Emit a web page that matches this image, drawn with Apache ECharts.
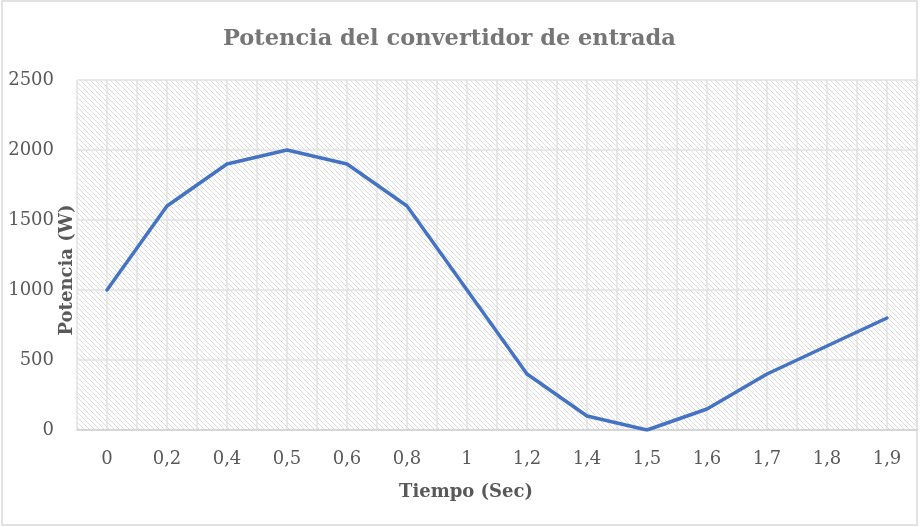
<!DOCTYPE html>
<html>
<head>
<meta charset="utf-8">
<script src="https://cdn.jsdelivr.net/npm/echarts@6/dist/echarts.min.js"></script>
<style>
  html, body { margin: 0; padding: 0; background: #fff; }
  #main { width: 920px; height: 527px; }
</style>
</head>
<body>
<div id="main"></div>
<script>
// data
var tiempo = ['0', '0,2', '0,4', '0,5', '0,6', '0,8', '1', '1,2', '1,4', '1,5', '1,6', '1,7', '1,8', '1,9'];
var potencia = [1000, 1600, 1900, 2000, 1900, 1600, 1000, 400, 100, 0, 150, 400, 600, 800];
var yTicks = { min: 0, max: 2500, interval: 500 };

// half-step slots so the vertical gridlines fall on and between categories
var halfSlots = [];
for (var i = 0; i < tiempo.length * 2; i++) halfSlots.push('');

// hatch fill like Excel's diagonal pattern
var hatch = document.createElement('canvas');
hatch.width = 5;
hatch.height = 5;
var hctx = hatch.getContext('2d');
hctx.fillStyle = '#ffffff';
hctx.fillRect(0, 0, 5, 5);
hctx.fillStyle = '#dcdcdc';
for (var k = 0; k < 5; k++) {
  hctx.fillRect(k, k, 1, 1);
}

var serif = '"DejaVu Serif", serif';
var myChart = echarts.init(document.getElementById('main'));

myChart.setOption({
  backgroundColor: '#ffffff',
  animation: false,
  title: {
    text: 'Potencia del convertidor de entrada',
    left: 218,
    top: 23,
    textStyle: { fontFamily: serif, fontSize: 22.5, fontWeight: 'bold', color: '#767676' }
  },
  grid: {
    left: 77, right: 3, top: 80, bottom: 97,
    show: true,
    borderWidth: 0,
    backgroundColor: { image: hatch, repeat: 'repeat' }
  },
  xAxis: [{
    type: 'category',
    data: tiempo,
    boundaryGap: true,
    axisLine: { lineStyle: { color: '#d0d0d0', width: 1.5 } },
    axisTick: { show: false },
    axisLabel: { fontFamily: serif, fontSize: 18, color: '#595959', margin: 20 },
    splitLine: { show: false }
  }, {
    type: 'category',
    data: halfSlots,
    position: 'bottom',
    boundaryGap: true,
    axisLine: { show: false },
    axisTick: { show: false },
    axisLabel: { show: false },
    splitLine: { show: true, interval: 0, lineStyle: { color: '#e2e2e2', width: 1.5 } }
  }],
  yAxis: {
    type: 'value',
    min: yTicks.min,
    max: yTicks.max,
    interval: yTicks.interval,
    axisLine: { show: false },
    axisTick: { show: false },
    axisLabel: {
      fontFamily: serif, fontSize: 18, color: '#595959', margin: 23,
      formatter: function (v) { return String(v); }
    },
    splitLine: { lineStyle: { color: '#e2e2e2', width: 1.5 } }
  },
  graphic: [{
    type: 'rect',
    shape: { x: 2, y: 1, width: 915, height: 524 },
    style: { fill: null, stroke: '#d9d9d9', lineWidth: 1.5 },
    silent: true
  }, {
    type: 'text',
    x: 67,
    y: 270,
    rotation: Math.PI / 2,
    style: {
      text: 'Potencia (W)',
      fontFamily: serif,
      fontSize: 18,
      fontWeight: 'bold',
      fill: '#595959',
      align: 'center',
      verticalAlign: 'middle'
    },
    z: 10
  }, {
    type: 'text',
    x: 466,
    y: 492,
    style: {
      text: 'Tiempo (Sec)',
      fontFamily: serif,
      fontSize: 18,
      fontWeight: 'bold',
      fill: '#595959',
      align: 'center',
      verticalAlign: 'middle'
    },
    z: 10
  }],
  series: [{
    type: 'line',
    data: potencia,
    xAxisIndex: 0,
    showSymbol: false,
    symbol: 'none',
    lineStyle: { color: '#4472C4', width: 3.5, join: 'round', cap: 'round' },
    z: 5
  }]
});
</script>
</body>
</html>
